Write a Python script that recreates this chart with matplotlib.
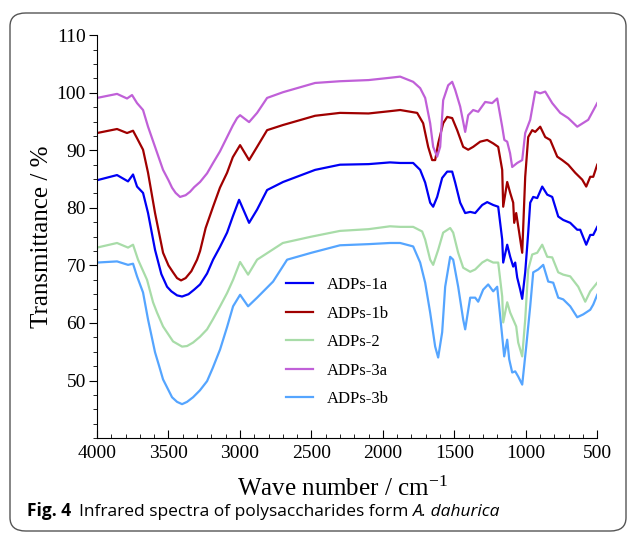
import matplotlib
matplotlib.use('Agg')
import matplotlib.pyplot as plt
from matplotlib.patches import FancyBboxPatch
from matplotlib.ticker import MultipleLocator

# wave numbers and transmittance
wn_3a = [4000, 3860, 3790, 3755, 3720, 3678, 3643, 3594, 3538, 3500, 3475, 3450, 3419, 3380,
         3349, 3320, 3279, 3230, 3188, 3140, 3090, 3050, 3020, 2999, 2936, 2880, 2810, 2698,
         2474, 2300, 2100, 1950, 1879, 1788, 1739, 1704, 1669, 1648, 1620, 1599, 1578, 1543,
         1515, 1494, 1459, 1424, 1403, 1368, 1333, 1284, 1235, 1200, 1165, 1150, 1130, 1110,
         1095, 1060, 1025, 1004, 969, 934, 899, 864, 815, 759, 703, 640, 563, 500]
t_3a = [99.1, 99.8, 99.0, 99.6, 98.2, 97.0, 94.1, 90.6, 86.6, 84.8, 83.5, 82.6, 81.9, 82.2,
        82.8, 83.6, 84.5, 86.0, 87.8, 89.8, 92.3, 94.3, 95.6, 96.1, 94.9, 96.5, 99.1, 100.1,
        101.7, 102.0, 102.2, 102.6, 102.8, 101.9, 100.8, 99.1, 94.7, 90.6, 88.9, 90.6, 98.7, 101.3,
        101.9, 100.5, 97.6, 93.2, 96.1, 97.0, 96.7, 98.4, 98.2, 99.0, 94.1, 91.8, 91.5, 89.5,
        87.1, 87.8, 88.3, 93.0, 95.3, 100.2, 99.9, 100.2, 98.2, 96.5, 95.6, 94.1, 95.3, 98.2]

wn_1b = [4000, 3860, 3790, 3748, 3720, 3678, 3643, 3594, 3538, 3500, 3468, 3440, 3412, 3380,
         3340, 3300, 3279, 3240, 3188, 3140, 3090, 3050, 2999, 2936, 2880, 2810, 2698, 2474,
         2300, 2100, 1950, 1879, 1760, 1718, 1683, 1655, 1634, 1613, 1578, 1550, 1515, 1480,
         1438, 1403, 1368, 1319, 1270, 1228, 1193, 1165, 1158, 1130, 1109, 1088, 1081, 1067,
         1046, 1025, 1004, 983, 955, 934, 899, 864, 829, 780, 745, 703, 654, 605, 577, 549, 528, 500]
t_1b = [93.0, 93.7, 93.0, 93.4, 92.1, 90.1, 86.1, 79.1, 72.2, 70.0, 68.8, 67.8, 67.4, 67.8,
        69.0, 71.0, 72.5, 76.5, 80.2, 83.5, 86.1, 88.8, 90.9, 88.3, 90.6, 93.5, 94.4, 96.0,
        96.5, 96.4, 96.8, 97.0, 96.5, 94.7, 90.6, 88.3, 88.3, 91.2, 94.7, 95.8, 95.6, 93.5,
        90.6, 90.1, 90.6, 91.5, 91.8, 91.2, 90.6, 86.6, 80.2, 84.5, 82.6, 80.9, 77.4, 79.1,
        75.7, 72.2, 85.4, 92.3, 93.5, 93.2, 94.1, 92.3, 91.8, 88.9, 88.3, 87.5, 86.1, 84.9, 83.7, 85.4, 85.4, 87.5]

wn_1a = [4000, 3860, 3783, 3748, 3720, 3678, 3643, 3594, 3550, 3510, 3480, 3440, 3405, 3360,
         3320, 3279, 3230, 3188, 3140, 3090, 3050, 3006, 2936, 2880, 2810, 2698, 2474, 2300,
         2100, 1950, 1879, 1788, 1739, 1704, 1669, 1648, 1620, 1585, 1550, 1515, 1494, 1459,
         1424, 1389, 1354, 1305, 1270, 1228, 1193, 1165, 1158, 1130, 1109, 1088, 1074, 1060,
         1039, 1025, 1004, 983, 969, 948, 920, 885, 850, 815, 773, 738, 689, 640, 619, 577,
         549, 528, 500]
t_1a = [84.8, 85.7, 84.6, 85.8, 83.7, 82.6, 79.1, 72.7, 68.5, 66.3, 65.5, 64.8, 64.6, 65.0,
        65.8, 66.7, 68.6, 71.0, 73.2, 75.7, 78.5, 81.4, 77.4, 79.7, 83.1, 84.5, 86.6, 87.5,
        87.6, 87.9, 87.8, 87.8, 86.6, 84.4, 80.9, 80.2, 81.9, 85.2, 86.3, 86.3, 84.4, 80.9,
        79.1, 79.3, 79.1, 80.5, 81.0, 80.5, 80.2, 74.5, 70.5, 73.6, 71.5, 69.8, 70.5, 67.9,
        65.8, 64.2, 68.8, 75.7, 80.9, 81.9, 81.7, 83.7, 82.3, 81.9, 78.5, 77.9, 77.4, 76.2, 76.2, 73.6,
        75.3, 75.3, 76.7]

wn_2 = [4000, 3860, 3783, 3748, 3713, 3650, 3608, 3580, 3538, 3468, 3405, 3370, 3328, 3280,
        3230, 3190, 3139, 3090, 3048, 2999, 2943, 2880, 2700, 2500, 2300, 2100, 1950, 1879,
        1788, 1725, 1704, 1669, 1648, 1613, 1578, 1529, 1508, 1473, 1438, 1389, 1354, 1305,
        1270, 1228, 1193, 1165, 1158, 1130, 1109, 1088, 1067, 1053, 1025, 1004, 983, 955, 920,
        885, 850, 815, 773, 738, 689, 633, 584, 549, 500]
t_2 = [73.1, 73.9, 73.1, 73.6, 71.0, 67.5, 63.6, 61.8, 59.4, 56.8, 55.9, 56.0, 56.6, 57.6,
       58.9, 60.6, 62.9, 65.2, 67.5, 70.6, 68.4, 71.0, 73.9, 75.0, 76.0, 76.3, 76.8, 76.7,
       76.7, 75.9, 74.5, 71.0, 70.1, 72.7, 75.7, 76.5, 75.7, 72.2, 69.6, 68.9, 69.3, 70.5,
       71.0, 70.5, 70.5, 64.6, 60.1, 63.6, 61.8, 60.6, 59.4, 56.6, 54.2, 60.6, 69.3, 71.9, 72.2,
       73.6, 71.5, 71.4, 68.8, 68.4, 68.1, 66.3, 63.7, 65.5, 67.0]

wn_3b = [4000, 3860, 3783, 3748, 3720, 3678, 3643, 3594, 3565, 3538, 3475, 3440, 3405, 3370,
         3328, 3280, 3230, 3190, 3139, 3090, 3048, 2999, 2943, 2880, 2768, 2670, 2500, 2300,
         2100, 1950, 1879, 1788, 1739, 1704, 1669, 1634, 1613, 1585, 1564, 1529, 1508, 1473,
         1438, 1424, 1389, 1354, 1333, 1298, 1263, 1228, 1200, 1165, 1151, 1130, 1116, 1095,
         1074, 1053, 1025, 997, 969, 948, 913, 878, 843, 808, 773, 738, 689, 640, 598, 549, 528, 500]
t_3b = [70.5, 70.7, 70.1, 70.3, 68.1, 65.3, 60.6, 54.9, 52.5, 50.2, 47.1, 46.3, 45.9, 46.3,
        47.1, 48.3, 49.9, 52.2, 55.4, 59.3, 62.9, 64.9, 62.9, 64.4, 67.2, 71.0, 72.2, 73.5,
        73.7, 73.9, 73.9, 73.3, 70.5, 67.0, 61.8, 55.9, 54.0, 58.4, 66.3, 71.5, 71.0, 66.3,
        60.6, 58.9, 64.4, 64.4, 63.7, 65.8, 66.7, 65.5, 66.3, 57.7, 54.2, 57.1, 53.7, 51.4,
        51.6, 50.7, 49.3, 55.9, 62.9, 68.8, 69.3, 70.1, 67.2, 67.0, 64.4, 64.1, 62.9, 61.0, 61.5, 62.3, 63.2, 64.9]

labels = ['ADPs-1a', 'ADPs-1b', 'ADPs-2', 'ADPs-3a', 'ADPs-3b']
colors = ['#0000f5', '#a00000', '#a8dca8', '#c060d8', '#55a5ff']
series = [(wn_1a, t_1a), (wn_1b, t_1b), (wn_2, t_2), (wn_3a, t_3a), (wn_3b, t_3b)]

plt.rcParams['font.family'] = 'Liberation Serif'
plt.rcParams['mathtext.fontset'] = 'stix'

fig = plt.figure(figsize=(6.3, 5.33), dpi=100)
ax = fig.add_axes([0.154, 0.178, 0.794, 0.756])

for (x, y), lab, c in zip(series, labels, colors):
    ax.plot(x, y, color=c, lw=1.6, label=lab, solid_joinstyle='round')

ax.set_xlim(4000, 500)
ax.set_ylim(40, 110)
ax.xaxis.set_major_locator(MultipleLocator(500))
ax.xaxis.set_minor_locator(MultipleLocator(100))
ax.yaxis.set_major_locator(MultipleLocator(10))
ax.yaxis.set_minor_locator(MultipleLocator(2.5))
ax.set_yticks([50, 60, 70, 80, 90, 100, 110])
ax.tick_params(axis='x', which='both', direction='in', labelsize=14, pad=5)
ax.tick_params(axis='x', which='major', length=6)
ax.tick_params(axis='x', which='minor', length=3)
ax.tick_params(axis='y', which='both', direction='out', labelsize=14, pad=2)
ax.tick_params(axis='y', which='major', length=6)
ax.tick_params(axis='y', which='minor', length=3)
ax.spines['top'].set_visible(False)
ax.spines['right'].set_visible(False)

ax.set_xlabel(r'Wave number / cm$^{\mathregular{-1}}$', fontsize=18)
ax.set_ylabel('Transmittance / %', fontsize=18)
ax.xaxis.set_label_coords(0.49, -0.095)
ax.yaxis.set_label_coords(-0.088, 0.5)

ax.legend(loc='lower left', bbox_to_anchor=(0.348, 0.04), frameon=False, fontsize=12,
          handlelength=1.6, handletextpad=0.85, labelspacing=0.75)

# rounded frame and caption
frame = FancyBboxPatch((10 / 630, 2 / 533), 616 / 630, 518 / 533,
                       boxstyle='round,pad=0,rounding_size=0.025', transform=fig.transFigure,
                       fill=False, edgecolor='#555555', lw=1.0)
fig.patches.append(frame)

r = fig.canvas.get_renderer()
cy = 1 - 516 / 533
t1 = fig.text(27 / 630, cy, 'Fig. 4', family='Open Sans', weight='bold', fontsize=12.5, va='baseline')
x1 = t1.get_window_extent(r).x1 / fig.bbox.width
t2 = fig.text(x1 + 8 / 630, cy, 'Infrared spectra of polysaccharides form ', family='Open Sans',
              fontsize=12.5, va='baseline')
x2 = t2.get_window_extent(r).x1 / fig.bbox.width
fig.text(x2, cy, 'A. dahurica', family='Open Sans', style='italic', fontsize=12.5, va='baseline')

fig.savefig('out.png', dpi=100)
